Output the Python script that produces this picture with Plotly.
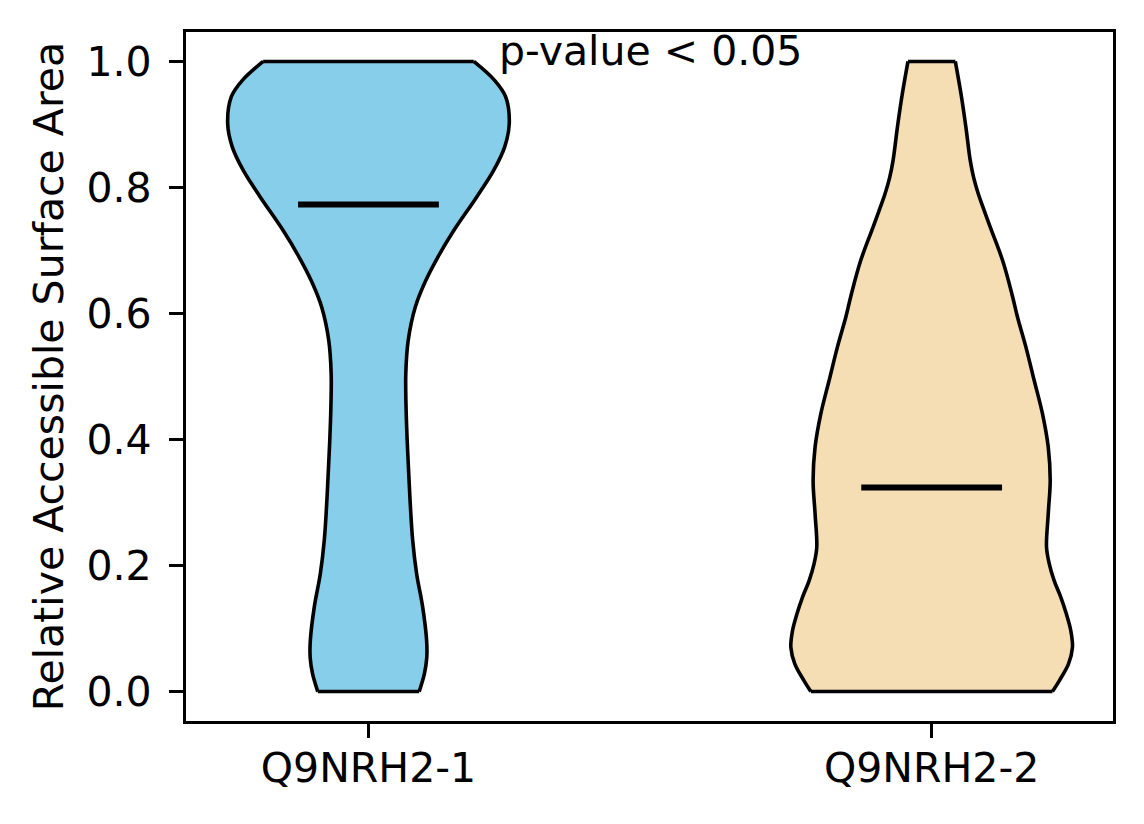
import plotly.graph_objects as go

# categories and positions on the x axis
categories = ["Q9NRH2-1", "Q9NRH2-2"]
positions = [1, 2]

# violin outlines: y level and relative density (max = 1)
y_q1 = [0.0, 0.028, 0.054, 0.081, 0.134, 0.187, 0.240, 0.293, 0.346, 0.398, 0.451,
        0.504, 0.557, 0.610, 0.650, 0.690, 0.732, 0.785, 0.827, 0.864, 0.901,
        0.944, 0.970, 1.0]
dens_q1 = [0.360, 0.397, 0.414, 0.413, 0.385, 0.342, 0.314, 0.298, 0.286, 0.275, 0.267,
           0.265, 0.282, 0.332, 0.402, 0.494, 0.607, 0.769, 0.889, 0.967, 1.000,
           0.974, 0.896, 0.748]

y_q2 = [0.0, 0.017, 0.044, 0.070, 0.097, 0.123, 0.150, 0.176, 0.203, 0.229, 0.282,
        0.335, 0.388, 0.441, 0.494, 0.547, 0.594, 0.631, 0.684, 0.737, 0.763,
        0.790, 0.816, 0.843, 0.896, 0.949, 1.0]
dens_q2 = [0.858, 0.906, 0.972, 1.000, 0.988, 0.957, 0.917, 0.870, 0.835, 0.816, 0.828,
           0.842, 0.828, 0.787, 0.728, 0.669, 0.610, 0.570, 0.504, 0.416, 0.374,
           0.331, 0.298, 0.274, 0.243, 0.208, 0.168]

means = [0.773, 0.324]
fill_colors = ["#87CEEB", "#F5DEB3"]

y_ticks = [0.0, 0.2, 0.4, 0.6, 0.8, 1.0]
annotation_text = "p-value < 0.05"

WIDTH = 0.5  # violin width in x units
FONT = dict(family="DejaVu Sans", size=41, color="black")
EDGE = 3.6
FRAME = 3.2

fig = go.Figure()

for pos, ys, dens, mean, color in zip(positions, [y_q1, y_q2], [dens_q1, dens_q2], means, fill_colors):
    peak = max(dens)
    half = [d / peak * WIDTH / 2 for d in dens]
    left = [pos - h for h in half]
    right = [pos + h for h in half]
    line = dict(color="black", width=EDGE, shape="spline", smoothing=1)

    # left edge, then right edge filled back to it
    fig.add_trace(go.Scatter(x=left, y=ys, mode="lines", line=line,
                             hoverinfo="skip", showlegend=False))
    fig.add_trace(go.Scatter(x=right, y=ys, mode="lines", line=line,
                             fill="tonextx", fillcolor=color,
                             hoverinfo="skip", showlegend=False))
    # flat caps at min and max
    fig.add_trace(go.Scatter(
        x=[left[0], right[0], None, left[-1], right[-1]],
        y=[ys[0], ys[0], None, ys[-1], ys[-1]],
        mode="lines", line=dict(color="black", width=EDGE),
        hoverinfo="skip", showlegend=False,
    ))
    # mean marker
    fig.add_trace(go.Scatter(
        x=[pos - WIDTH / 4, pos + WIDTH / 4], y=[mean, mean],
        mode="lines", line=dict(color="black", width=6),
        hoverinfo="skip", showlegend=False,
    ))

fig.add_annotation(
    x=1.5, y=1.017, text=annotation_text, showarrow=False,
    xanchor="center", yanchor="middle", font=FONT,
)

axis_style = dict(
    showline=True, mirror=True, linecolor="black", linewidth=FRAME,
    ticks="outside", ticklen=14, tickwidth=FRAME, tickcolor="black",
    showgrid=False, zeroline=False, tickfont=FONT, automargin=False,
)

# page body adds an 8px offset, so the figure is 8px smaller each way
fig.update_layout(
    width=1136,
    height=816,
    margin=dict(l=178, r=31, t=24, b=103),
    paper_bgcolor="white",
    plot_bgcolor="white",
    font=FONT,
    xaxis=dict(range=[0.676, 2.322], tickvals=positions, ticktext=categories,
               ticklabelstandoff=-5, **axis_style),
    yaxis=dict(
        range=[-0.0467, 1.0467], tickvals=y_ticks, tickformat=".1f",
        ticklabelstandoff=9,
        title=dict(text="Relative Accessible Surface Area", font=FONT, standoff=11),
        **axis_style,
    ),
)

fig.write_html("out.html")
